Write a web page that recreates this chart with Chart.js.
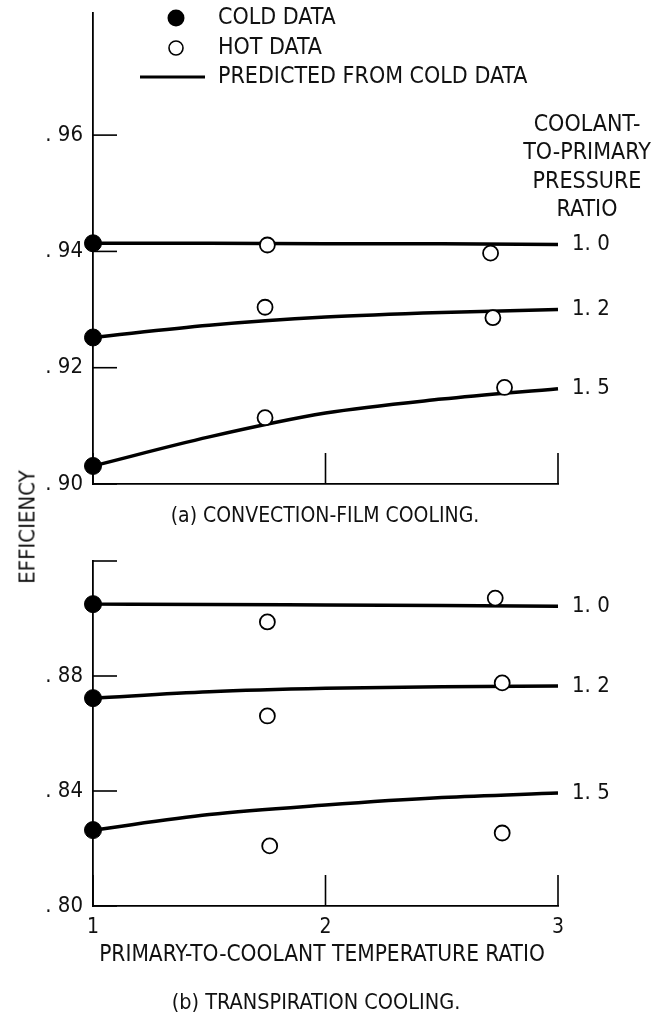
<!DOCTYPE html>
<html>
<head>
<meta charset="utf-8">
<script src="https://cdn.jsdelivr.net/npm/chart.js@4"></script>
<style>
  body { margin: 0; background: #fff; }
  #wrap { position: relative; width: 660px; height: 1016px; }
  canvas { position: absolute; left: 0; }
  #top { top: 0; }
  #bottom { top: 540px; }
  #ylab {
    position: absolute; left: 27px; top: 527px;
    transform: translate(-50%, -50%) rotate(-90deg);
    font: 22px "Liberation Sans Narrow", "DejaVu Sans Condensed", "Arial Narrow", sans-serif;
    color: #111; white-space: nowrap;
  }
</style>
</head>
<body>
<div id="wrap">
  <canvas id="top" width="660" height="540"></canvas>
  <canvas id="bottom" width="660" height="476"></canvas>
  <div id="ylab">EFFICIENCY</div>
</div>
<script>
// temperature ratio positions of the predicted curves
const xPred = [1, 1.5, 2, 2.5, 3];
const xTicks = [1, 2, 3];
const pressureRatios = ["1. 0", "1. 2", "1. 5"];

// (a) convection-film cooling
const topTicks = [0.90, 0.92, 0.94, 0.96];
const topLabels = [0.90, 0.92, 0.94, 0.96];
const topPred10 = [0.9414, 0.9414, 0.9413, 0.9413, 0.9412];
const topPred12 = [0.9252, 0.9273, 0.9287, 0.9295, 0.9300];
const topPred15 = [0.9031, 0.9081, 0.9122, 0.9146, 0.9164];
const topCold = [0.9414, 0.9252, 0.9031];
const topHot = [[1.75, 0.9411], [2.71, 0.9397], [1.74, 0.9304], [2.72, 0.9286], [1.74, 0.9114], [2.77, 0.9166]];

// (b) transpiration cooling
const botTicks = [0.80, 0.84, 0.88, 0.92];
const botLabels = [0.80, 0.84, 0.88];
const botPred10 = [0.9050, 0.9049, 0.9047, 0.9045, 0.9043];
const botPred12 = [0.8723, 0.8745, 0.8757, 0.8763, 0.8765];
const botPred15 = [0.8264, 0.8318, 0.8351, 0.8377, 0.8393];
const botCold = [0.9050, 0.8723, 0.8264];
const botHot = [[1.75, 0.8988], [2.73, 0.9071], [1.75, 0.8661], [2.76, 0.8776], [1.76, 0.8209], [2.76, 0.8254]];

const FONT = '"Liberation Sans Narrow", "DejaVu Sans Condensed", "Arial Narrow", sans-serif';
Chart.defaults.font.family = FONT;
Chart.defaults.font.size = 21;
Chart.defaults.color = "#111";

function predLine(vals) {
  return {
    type: "line",
    data: xPred.map((x, i) => ({ x: x, y: vals[i] })),
    borderColor: "#000",
    borderWidth: 3.5,
    pointRadius: 0,
    cubicInterpolationMode: "monotone",
    clip: false
  };
}

function datasets(cold, hot, p10, p12, p15) {
  return [
    {
      type: "scatter",
      data: cold.map((y) => ({ x: 1, y: y })),
      pointRadius: 8.5,
      backgroundColor: "#000",
      borderColor: "#000",
      clip: false
    },
    {
      type: "scatter",
      data: hot.map((p) => ({ x: p[0], y: p[1] })),
      pointRadius: 7.5,
      backgroundColor: "#fff",
      borderColor: "#000",
      borderWidth: 1.8,
      clip: false
    },
    predLine(p10),
    predLine(p12),
    predLine(p15)
  ];
}

// short tick marks pointing into the plot, plus labels at the curve ends
const marks = {
  id: "marks",
  afterDraw(chart, args, opts) {
    const ctx = chart.ctx;
    const a = chart.chartArea;
    const xs = chart.scales.x, ys = chart.scales.y;
    ctx.save();
    ctx.strokeStyle = "#000";
    ctx.lineWidth = 1.6;
    ys.ticks.forEach((t) => {
      const py = ys.getPixelForValue(t.value);
      ctx.beginPath(); ctx.moveTo(a.left, py); ctx.lineTo(a.left + 24, py); ctx.stroke();
    });
    xs.ticks.forEach((t) => {
      const px = xs.getPixelForValue(t.value);
      ctx.beginPath(); ctx.moveTo(px, a.bottom); ctx.lineTo(px, a.bottom - 31); ctx.stroke();
    });
    ctx.fillStyle = "#111";
    ctx.font = "22px " + FONT;
    ctx.textBaseline = "middle";
    ctx.textAlign = "left";
    [2, 3, 4].forEach((di, i) => {
      const d = chart.data.datasets[di].data;
      const py = ys.getPixelForValue(d[d.length - 1].y);
      ctx.fillText(pressureRatios[i], a.right + 14, py);
    });
    ctx.font = opts.capSize + "px " + FONT;
    ctx.textAlign = "center";
    ctx.fillText(opts.caption, opts.capX, opts.capY);
    if (opts.legend) {
      ctx.font = "23px " + FONT;
      ctx.textAlign = "left";
      ctx.beginPath(); ctx.arc(176, 18, 8.5, 0, Math.PI * 2); ctx.fillStyle = "#000"; ctx.fill();
      ctx.beginPath(); ctx.arc(176, 48, 7, 0, Math.PI * 2); ctx.fillStyle = "#fff"; ctx.fill(); ctx.stroke();
      ctx.lineWidth = 3;
      ctx.beginPath(); ctx.moveTo(140, 77); ctx.lineTo(205, 77); ctx.stroke();
      ctx.fillStyle = "#111";
      ctx.fillText("COLD DATA", 218, 18);
      ctx.fillText("HOT DATA", 218, 48);
      ctx.fillText("PREDICTED FROM COLD DATA", 218, 77);
      ctx.textAlign = "center";
      ["COOLANT-", "TO-PRIMARY", "PRESSURE", "RATIO"].forEach((s, i) => {
        ctx.fillText(s, 587, 125 + i * 28.5);
      });
    }
    if (opts.xTitle) {
      ctx.font = "22.5px " + FONT;
      ctx.textAlign = "center";
      ctx.fillText(opts.xTitle, 322, opts.xTitleY);
    }
    ctx.restore();
  }
};

function makeChart(id, cfg) {
  return new Chart(document.getElementById(id), {
    data: { datasets: datasets(cfg.cold, cfg.hot, cfg.p10, cfg.p12, cfg.p15) },
    options: {
      responsive: false,
      animation: false,
      devicePixelRatio: 1,
      layout: { padding: { left: 0, right: 102, top: cfg.padTop, bottom: 0 } },
      plugins: {
        legend: { display: false },
        tooltip: { enabled: false },
        marks: cfg.marks
      },
      scales: {
        x: {
          type: "linear",
          min: 1,
          max: 3,
          afterBuildTicks: (s) => { s.ticks = xTicks.map((v) => ({ value: v })); },
          afterFit: (s) => { s.height = cfg.xHeight; s.paddingLeft = 0; s.paddingRight = 0; },
          grid: { display: false, tickLength: 0 },
          border: { display: true, color: "#000", width: 1.8 },
          ticks: { display: cfg.xLabels, padding: 9, maxRotation: 0, callback: (v) => String(v) }
        },
        y: {
          min: cfg.yMin,
          max: cfg.yMax,
          afterBuildTicks: (s) => { s.ticks = cfg.yTicks.map((v) => ({ value: v })); },
          afterFit: (s) => { s.width = 93; s.paddingTop = 0; s.paddingBottom = 0; },
          grid: { display: false, tickLength: 0 },
          border: { display: true, color: "#000", width: 1.8 },
          ticks: {
            padding: 10,
            font: { size: 22 },
            callback: (v) => cfg.yLabels.some((l) => Math.abs(l - v) < 1e-6) ? ". " + Math.round(v * 100) : ""
          }
        }
      }
    },
    plugins: [marks]
  });
}

makeChart("top", {
  cold: topCold, hot: topHot, p10: topPred10, p12: topPred12, p15: topPred15,
  yMin: 0.90, yMax: 0.981, yTicks: topTicks, yLabels: topLabels, padTop: 13, xHeight: 56, xLabels: false,
  marks: { legend: true, caption: "(a) CONVECTION-FILM COOLING.", capX: 325, capY: 517, capSize: 21 }
});

makeChart("bottom", {
  cold: botCold, hot: botHot, p10: botPred10, p12: botPred12, p15: botPred15,
  yMin: 0.80, yMax: 0.92, yTicks: botTicks, yLabels: botLabels, padTop: 21, xHeight: 110, xLabels: true,
  marks: { legend: false, caption: "(b) TRANSPIRATION COOLING.", capX: 316, capY: 463, capSize: 21.5,
           xTitle: "PRIMARY-TO-COOLANT TEMPERATURE RATIO", xTitleY: 415 }
});
</script>
</body>
</html>
